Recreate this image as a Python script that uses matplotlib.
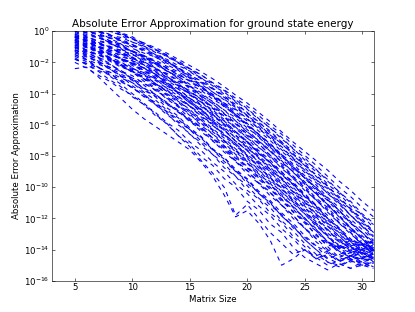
import matplotlib
matplotlib.use("Agg")
import matplotlib.pyplot as plt
from matplotlib.ticker import MultipleLocator, NullLocator, FixedLocator
import numpy as np

plt.rcParams["font.size"] = 12
plt.rcParams["lines.dashed_pattern"] = [6, 6]
plt.rcParams["lines.scale_dashes"] = False

####################################################
# Data: log10 of the absolute error, one row per curve, matrix sizes 5..31

matrix_size = np.arange(5, 32)
y_ticks = [-16, -14, -12, -10, -8, -6, -4, -2, 0]

slow_curves = [
    [0.5, 0.35, 0.2, 0.0, -0.2, -0.5, -0.75, -1.05, -1.4, -1.8, -2.2, -2.6, -3.05, -3.55, -4.1, -4.6, -5.2, -5.8, -6.45, -7.1, -7.7, -8.3, -8.9, -9.6, -10.2, -10.9, -11.5],
    [0.3, 0.1, 0.0, -0.25, -0.4, -0.7, -0.95, -1.3, -1.6, -2.0, -2.4, -2.8, -3.3, -3.75, -4.3, -4.8, -5.4, -6.05, -6.6, -7.3, -7.95, -8.6, -9.3, -10.0, -10.6, -11.3, -11.9],
    [0.1, -0.1, -0.2, -0.45, -0.6, -0.9, -1.1, -1.5, -1.8, -2.2, -2.55, -3.0, -3.5, -3.9, -4.5, -5.0, -5.65, -6.2, -6.8, -7.55, -8.1, -8.9, -9.5, -10.3, -10.9, -11.7, -12.3],
    [-0.1, -0.3, -0.4, -0.65, -0.8, -1.1, -1.4, -1.65, -2.05, -2.35, -2.8, -3.2, -3.7, -4.15, -4.7, -5.2, -5.85, -6.4, -7.1, -7.7, -8.4, -9.0, -9.8, -10.4, -11.2, -11.8, -12.6],
    [-0.3, -0.4, -0.65, -0.8, -1.05, -1.25, -1.6, -1.85, -2.25, -2.6, -3.0, -3.4, -3.9, -4.35, -4.9, -5.45, -6.0, -6.65, -7.2, -7.9, -8.6, -9.2, -9.95, -10.6, -11.4, -12.0, -12.9],
    [-0.5, -0.7, -0.8, -1.05, -1.2, -1.5, -1.75, -2.1, -2.4, -2.8, -3.15, -3.65, -4.05, -4.6, -5.05, -5.65, -6.2, -6.85, -7.4, -8.15, -8.75, -9.5, -10.1, -10.9, -11.5, -12.3, -12.9],
    [0.6, 0.45, 0.2, 0.05, -0.25, -0.5, -0.85, -1.15, -1.55, -1.9, -2.4, -2.8, -3.35, -3.8, -4.4, -4.95, -5.6, -6.2, -6.9, -7.5, -8.25, -8.85, -9.6, -10.3, -11.0, -11.8, -12.4],
    [0.2, 0.0, -0.15, -0.4, -0.6, -0.95, -1.2, -1.6, -1.9, -2.35, -2.75, -3.25, -3.7, -4.25, -4.75, -5.4, -5.95, -6.65, -7.2, -7.95, -8.6, -9.3, -10.0, -10.75, -11.4, -12.2, -12.9],
    [-0.2, -0.35, -0.6, -0.75, -1.05, -1.3, -1.65, -1.95, -2.35, -2.7, -3.2, -3.6, -4.15, -4.6, -5.2, -5.75, -6.4, -7.0, -7.7, -8.3, -9.05, -9.7, -10.4, -11.1, -11.8, -12.5, -13.1],
    [-0.6, -0.8, -0.95, -1.2, -1.4, -1.75, -2.0, -2.4, -2.7, -3.15, -3.55, -4.05, -4.5, -5.05, -5.55, -6.2, -6.75, -7.45, -8.0, -8.75, -9.4, -10.1, -10.8, -11.5, -12.3, -12.9, -13.7],
    [-0.9, -1.05, -1.3, -1.45, -1.75, -2.0, -2.35, -2.65, -3.05, -3.4, -3.9, -4.3, -4.85, -5.3, -5.9, -6.45, -7.1, -7.7, -8.4, -9.0, -9.75, -10.4, -11.1, -11.8, -12.6, -13.2, -13.9],
]

mid_curves = [
    [0.4, 0.2, 0.0, -0.3, -0.5, -0.85, -1.2, -1.55, -2.0, -2.35, -2.9, -3.3, -3.9, -4.4, -5.0, -5.6, -6.25, -6.85, -7.6, -8.2, -8.95, -9.6, -10.4, -11.0, -11.8, -12.5, -13.3],
    [0.0, -0.2, -0.4, -0.7, -0.9, -1.3, -1.55, -2.0, -2.35, -2.8, -3.2, -3.75, -4.2, -4.85, -5.35, -6.05, -6.6, -7.3, -7.9, -8.7, -9.3, -10.05, -10.7, -11.5, -12.2, -12.9, -13.5],
    [-0.4, -0.6, -0.8, -1.1, -1.3, -1.7, -1.95, -2.4, -2.75, -3.2, -3.6, -4.15, -4.65, -5.25, -5.75, -6.45, -7.0, -7.7, -8.3, -9.05, -9.7, -10.45, -11.1, -11.9, -12.6, -13.3, -14.0],
    [-0.8, -1.0, -1.2, -1.5, -1.7, -2.1, -2.35, -2.8, -3.15, -3.6, -4.0, -4.55, -5.05, -5.65, -6.15, -6.85, -7.4, -8.1, -8.7, -9.45, -10.1, -10.85, -11.5, -12.3, -12.9, -13.7, -14.1],
    [-1.1, -1.3, -1.5, -1.8, -2.0, -2.4, -2.65, -3.1, -3.45, -3.9, -4.3, -4.85, -5.35, -5.95, -6.45, -7.15, -7.7, -8.4, -9.0, -9.75, -10.4, -11.15, -11.8, -12.6, -13.3, -14.0, -14.7],
    [0.5, 0.3, 0.0, -0.2, -0.6, -0.85, -1.3, -1.65, -2.15, -2.5, -3.1, -3.55, -4.15, -4.65, -5.35, -5.9, -6.65, -7.2, -8.0, -8.6, -9.4, -10.0, -10.8, -11.45, -12.3, -12.9, -13.6],
    [0.1, -0.1, -0.4, -0.6, -1.0, -1.25, -1.7, -2.05, -2.55, -2.9, -3.5, -3.95, -4.55, -5.05, -5.75, -6.3, -7.05, -7.6, -8.4, -9.0, -9.8, -10.4, -11.2, -11.85, -12.7, -13.3, -14.0],
    [-0.3, -0.5, -0.8, -1.0, -1.4, -1.65, -2.1, -2.45, -2.95, -3.3, -3.9, -4.35, -4.95, -5.45, -6.15, -6.7, -7.45, -8.0, -8.8, -9.4, -10.2, -10.8, -11.6, -12.3, -13.0, -13.6, -13.9],
    [-0.7, -0.9, -1.2, -1.4, -1.8, -2.05, -2.5, -2.85, -3.35, -3.7, -4.3, -4.75, -5.35, -5.85, -6.55, -7.1, -7.85, -8.4, -9.2, -9.8, -10.6, -11.2, -12.0, -12.6, -13.5, -14.1, -14.8],
    [-1.2, -1.4, -1.7, -1.9, -2.3, -2.55, -3.0, -3.35, -3.85, -4.2, -4.8, -5.25, -5.85, -6.35, -7.05, -7.6, -8.35, -8.9, -9.7, -10.3, -11.1, -11.7, -12.5, -13.1, -13.9, -14.2, -14.5],
    [0.3, 0.05, -0.2, -0.6, -0.85, -1.3, -1.6, -2.1, -2.5, -3.05, -3.5, -4.15, -4.65, -5.3, -5.9, -6.6, -7.2, -7.95, -8.6, -9.35, -10.0, -10.8, -11.4, -12.25, -12.9, -13.7, -14.3],
    [-0.2, -0.45, -0.75, -1.0, -1.4, -1.7, -2.2, -2.55, -3.1, -3.5, -4.1, -4.55, -5.2, -5.75, -6.45, -7.05, -7.8, -8.4, -9.15, -9.8, -10.55, -11.2, -12.0, -12.7, -13.4, -13.8, -14.1],
    [-0.6, -0.85, -1.1, -1.5, -1.75, -2.2, -2.5, -3.0, -3.4, -3.95, -4.4, -5.05, -5.55, -6.25, -6.8, -7.5, -8.1, -8.85, -9.5, -10.25, -10.9, -11.7, -12.35, -13.15, -13.8, -14.5, -14.3],
    [-1.0, -1.25, -1.5, -1.85, -2.15, -2.6, -2.9, -3.4, -3.8, -4.35, -4.8, -5.45, -5.95, -6.65, -7.2, -7.9, -8.5, -9.25, -9.9, -10.65, -11.3, -12.1, -12.7, -13.5, -13.9, -14.2, -13.8],
    [-1.4, -1.65, -1.9, -2.3, -2.55, -3.0, -3.3, -3.8, -4.2, -4.75, -5.2, -5.85, -6.35, -7.0, -7.6, -8.3, -8.9, -9.65, -10.3, -11.05, -11.7, -12.5, -13.1, -13.95, -14.6, -14.9, -15.1],
]

fast_curves = [
    [0.2, -0.1, -0.4, -0.7, -1.15, -1.45, -1.95, -2.35, -2.9, -3.35, -4.0, -4.5, -5.15, -5.75, -6.45, -7.05, -7.8, -8.45, -9.2, -9.85, -10.6, -11.3, -12.1, -12.8, -13.5, -13.9, -14.2],
    [-0.4, -0.7, -1.0, -1.3, -1.75, -2.05, -2.55, -2.95, -3.5, -3.95, -4.6, -5.1, -5.75, -6.35, -7.05, -7.65, -8.4, -9.0, -9.8, -10.45, -11.2, -11.9, -12.7, -13.4, -14.1, -14.6, -14.3],
    [-0.9, -1.2, -1.5, -1.8, -2.25, -2.55, -3.05, -3.45, -4.0, -4.45, -5.1, -5.6, -6.25, -6.85, -7.55, -8.15, -8.9, -9.5, -10.3, -10.95, -11.7, -12.4, -13.2, -13.7, -14.0, -13.6, -13.9],
    [-1.5, -1.8, -2.1, -2.4, -2.85, -3.15, -3.65, -4.05, -4.6, -5.05, -5.7, -6.2, -6.85, -7.45, -8.15, -8.75, -9.5, -10.1, -10.9, -11.55, -12.3, -13.0, -13.8, -14.5, -14.8, -14.5, -14.9],
    [0.0, -0.3, -0.7, -1.0, -1.45, -1.8, -2.35, -2.75, -3.35, -3.85, -4.5, -5.0, -5.75, -6.3, -7.05, -7.65, -8.45, -9.05, -9.85, -10.5, -11.3, -11.95, -12.8, -13.4, -13.3, -13.7, -13.4],
    [-0.7, -1.0, -1.4, -1.7, -2.15, -2.5, -3.05, -3.45, -4.05, -4.55, -5.2, -5.7, -6.45, -7.0, -7.75, -8.35, -9.15, -9.75, -10.55, -11.2, -12.0, -12.65, -13.5, -14.1, -14.5, -14.2, -14.6],
    [-1.3, -1.6, -2.0, -2.3, -2.75, -3.1, -3.65, -4.05, -4.65, -5.15, -5.8, -6.3, -7.05, -7.6, -8.35, -8.95, -9.75, -10.35, -11.15, -11.8, -12.6, -13.25, -14.0, -13.7, -14.1, -13.8, -14.0],
    [-1.8, -2.1, -2.5, -2.8, -3.25, -3.6, -4.15, -4.55, -5.15, -5.65, -6.3, -6.8, -7.55, -8.1, -8.85, -9.45, -10.25, -10.85, -11.65, -12.3, -13.1, -13.75, -14.55, -14.9, -15.2, -14.8, -15.1],
    [-0.3, -0.65, -1.0, -1.45, -1.8, -2.35, -2.75, -3.35, -3.85, -4.5, -5.0, -5.75, -6.3, -7.05, -7.65, -8.45, -9.05, -9.85, -10.45, -11.3, -11.95, -12.8, -13.45, -14.1, -14.4, -14.0, -14.3],
    [-1.0, -1.35, -1.7, -2.15, -2.5, -3.05, -3.45, -4.05, -4.55, -5.2, -5.7, -6.45, -7.0, -7.75, -8.35, -9.15, -9.75, -10.55, -11.15, -12.0, -12.6, -13.5, -14.1, -14.7, -14.4, -14.8, -14.5],
    [-1.6, -1.95, -2.3, -2.75, -3.1, -3.65, -4.05, -4.65, -5.15, -5.8, -6.3, -7.05, -7.6, -8.35, -8.95, -9.75, -10.35, -11.15, -11.75, -12.6, -13.2, -13.8, -14.1, -13.7, -14.2, -13.9, -14.1],
]

steep_curves = [
    [-0.5, -0.85, -1.3, -1.7, -2.2, -2.6, -3.2, -3.7, -4.35, -4.85, -5.6, -6.15, -6.9, -7.5, -8.3, -8.9, -9.7, -10.3, -11.15, -11.8, -12.65, -13.3, -13.5, -13.8, -13.4, -13.7, -13.5],
    [-1.2, -1.55, -2.0, -2.4, -2.9, -3.3, -3.9, -4.4, -5.05, -5.55, -6.3, -6.85, -7.6, -8.2, -9.0, -9.6, -10.4, -11.0, -11.85, -12.5, -13.35, -14.0, -14.8, -15.0, -14.7, -15.1, -14.8],
    [-2.0, -2.35, -2.8, -3.2, -3.7, -4.1, -4.7, -5.2, -5.85, -6.35, -7.1, -7.65, -8.4, -9.0, -9.8, -10.4, -11.2, -11.8, -12.65, -13.3, -14.1, -14.4, -14.1, -14.5, -14.2, -14.4, -14.0],
    [-0.8, -1.2, -1.65, -2.05, -2.6, -3.05, -3.7, -4.2, -4.9, -5.45, -6.2, -6.75, -7.55, -8.1, -8.95, -9.5, -10.35, -10.95, -11.85, -12.45, -13.35, -14.0, -14.6, -14.3, -14.7, -14.4, -14.6],
    [-2.4, -2.3, -2.9, -3.6, -4.3, -5.0, -5.6, -6.1, -6.6, -7.1, -7.6, -8.4, -9.3, -10.5, -11.9, -11.5, -12.3, -13.4, -15.0, -14.6, -14.0, -14.5, -15.0, -14.7, -14.6, -14.9, -14.8],
    [-1.0, -1.45, -1.9, -2.4, -2.85, -3.5, -4.0, -4.7, -5.25, -6.0, -6.55, -7.35, -7.9, -8.75, -9.3, -10.2, -10.75, -11.65, -12.25, -13.15, -13.8, -14.6, -14.3, -14.7, -14.4, -14.6, -14.2],
    [-1.7, -2.15, -2.55, -3.1, -3.55, -4.2, -4.7, -5.4, -5.9, -6.7, -7.25, -8.05, -8.6, -9.45, -10.0, -10.9, -11.45, -12.35, -12.9, -13.85, -14.5, -14.9, -15.3, -14.9, -15.2, -15.0, -15.2],
    [-1.3, -1.8, -2.3, -2.85, -3.4, -4.0, -4.6, -5.3, -5.95, -6.7, -7.4, -8.3, -9.1, -10.0, -11.8, -11.1, -12.0, -12.9, -13.6, -14.3, -14.0, -14.6, -14.2, -14.8, -14.4, -14.7, -14.5],
]

extra_curves = [
    [1.0, 0.8, 0.5, 0.3, -0.1, -0.35, -0.8, -1.15, -1.65, -2.0, -2.6, -3.05, -3.65, -4.15, -4.85, -5.4, -6.15, -6.7, -7.5, -8.1, -8.9, -9.5, -10.3, -10.95, -11.8, -12.4, -13.2],
    [0.9, 0.6, 0.4, 0.0, -0.25, -0.7, -1.0, -1.5, -1.9, -2.45, -2.9, -3.55, -4.05, -4.7, -5.3, -6.0, -6.6, -7.35, -8.0, -8.75, -9.4, -10.2, -10.85, -11.65, -12.3, -13.1, -13.8],
    [1.2, 0.9, 0.6, 0.3, -0.15, -0.45, -0.95, -1.35, -1.9, -2.35, -3.0, -3.5, -4.2, -4.75, -5.45, -6.05, -6.8, -7.45, -8.2, -8.85, -9.65, -10.3, -11.1, -11.8, -12.6, -13.3, -14.1],
    [0.8, 0.5, 0.1, -0.2, -0.65, -1.0, -1.55, -1.95, -2.55, -3.0, -3.7, -4.2, -4.95, -5.5, -6.25, -6.85, -7.65, -8.25, -9.05, -9.65, -10.5, -11.15, -12.0, -12.65, -13.5, -13.6, -13.9],
    [0.7, 0.35, 0.0, -0.45, -0.8, -1.35, -1.75, -2.35, -2.8, -3.5, -4.0, -4.75, -5.3, -6.05, -6.65, -7.45, -8.05, -8.85, -9.45, -10.3, -10.95, -11.8, -12.45, -13.3, -14.0, -14.5, -14.7],
    [0.5, 0.1, -0.25, -0.75, -1.1, -1.7, -2.15, -2.75, -3.25, -3.95, -4.5, -5.25, -5.8, -6.6, -7.2, -8.0, -8.6, -9.4, -10.05, -10.9, -11.55, -12.4, -13.1, -13.9, -14.2, -14.0, -14.3],
    [0.8, 0.6, 0.4, 0.1, -0.1, -0.5, -0.75, -1.2, -1.5, -2.05, -2.4, -3.0, -3.4, -4.05, -4.55, -5.25, -5.8, -6.5, -7.1, -7.85, -8.5, -9.25, -9.9, -10.7, -11.35, -12.15, -12.8],
    [-0.4, -0.6, -0.95, -1.2, -1.6, -1.9, -2.4, -2.75, -3.3, -3.7, -4.3, -4.75, -5.45, -5.95, -6.7, -7.25, -8.0, -8.6, -9.4, -10.0, -10.8, -11.4, -12.25, -12.9, -13.7, -14.3, -14.0],
    [-0.7, -1.0, -1.25, -1.65, -1.95, -2.45, -2.8, -3.35, -3.75, -4.35, -4.8, -5.5, -6.0, -6.75, -7.3, -8.05, -8.65, -9.45, -10.05, -10.85, -11.45, -12.3, -12.95, -13.5, -13.8, -13.4, -13.7],
    [-0.3, -0.6, -1.0, -1.3, -1.75, -2.1, -2.65, -3.05, -3.65, -4.15, -4.8, -5.3, -6.05, -6.6, -7.35, -7.95, -8.75, -9.35, -10.15, -10.75, -11.6, -12.2, -13.1, -13.75, -14.6, -14.8, -14.6],
    [-1.0, -1.2, -1.5, -1.7, -2.1, -2.35, -2.8, -3.15, -3.65, -4.0, -4.6, -5.05, -5.65, -6.15, -6.85, -7.4, -8.15, -8.7, -9.5, -10.1, -10.9, -11.5, -12.3, -12.95, -13.8, -14.3, -14.6],
    [-0.6, -0.95, -1.3, -1.75, -2.1, -2.65, -3.05, -3.65, -4.1, -4.8, -5.3, -6.05, -6.6, -7.35, -7.95, -8.75, -9.3, -10.15, -10.75, -11.6, -12.2, -13.1, -13.7, -13.9, -13.6, -14.0, -13.7],
    [-0.6, -0.8, -1.0, -1.3, -1.5, -1.9, -2.15, -2.6, -2.95, -3.45, -3.8, -4.4, -4.85, -5.45, -5.95, -6.65, -7.2, -7.95, -8.5, -9.3, -9.9, -10.7, -11.3, -12.1, -12.75, -13.6, -14.0],
    [-0.4, -0.55, -0.8, -0.95, -1.25, -1.5, -1.85, -2.15, -2.55, -2.9, -3.4, -3.8, -4.35, -4.8, -5.4, -5.95, -6.6, -7.2, -7.9, -8.5, -9.25, -9.85, -10.65, -11.3, -12.05, -12.7, -13.4],
    [-1.5, -1.85, -2.3, -2.65, -3.2, -3.6, -4.2, -4.7, -5.35, -5.85, -6.6, -7.15, -7.9, -8.5, -9.3, -9.9, -10.7, -11.3, -12.15, -12.8, -13.6, -14.3, -14.8, -15.1, -14.7, -15.0, -14.8],
    [-1.2, -1.5, -1.8, -2.1, -2.55, -2.85, -3.35, -3.75, -4.3, -4.75, -5.4, -5.9, -6.6, -7.15, -7.9, -8.45, -9.25, -9.85, -10.6, -11.25, -12.05, -12.7, -13.5, -14.2, -14.4, -14.1, -14.5],
    [-1.8, -2.05, -2.35, -2.6, -3.0, -3.3, -3.8, -4.15, -4.7, -5.1, -5.7, -6.15, -6.85, -7.35, -8.1, -8.65, -9.4, -10.0, -10.8, -11.4, -12.2, -12.8, -13.6, -13.8, -14.1, -13.7, -14.0],
]

####################################################
# Plot

fig = plt.figure(figsize=(415 / 52.0, 312 / 52.0), dpi=52)
ax = fig.add_subplot(111)
fig.subplots_adjust(left=0.125, right=0.9, bottom=0.1, top=0.9)

for group in (slow_curves, mid_curves, fast_curves, steep_curves, extra_curves):
    for row in group:
        ax.semilogy(matrix_size, 10.0 ** np.array(row), "b--", lw=1.5)

ax.set_xlim(3, 31)
ax.set_ylim(1e-16, 1e0)
ax.xaxis.set_major_locator(MultipleLocator(5))
ax.yaxis.set_major_locator(FixedLocator([10.0 ** p for p in y_ticks]))
ax.yaxis.set_minor_locator(NullLocator())
ax.tick_params(direction="in", top=True, right=True, length=4, width=0.8)

ax.set_title("Absolute Error Approximation for ground state energy", fontsize=14.4)
ax.set_xlabel("Matrix Size", fontsize=12)
ax.set_ylabel("Absolute Error Approximation", fontsize=12)

plt.savefig("out.png", dpi=52)
plt.close("all")
